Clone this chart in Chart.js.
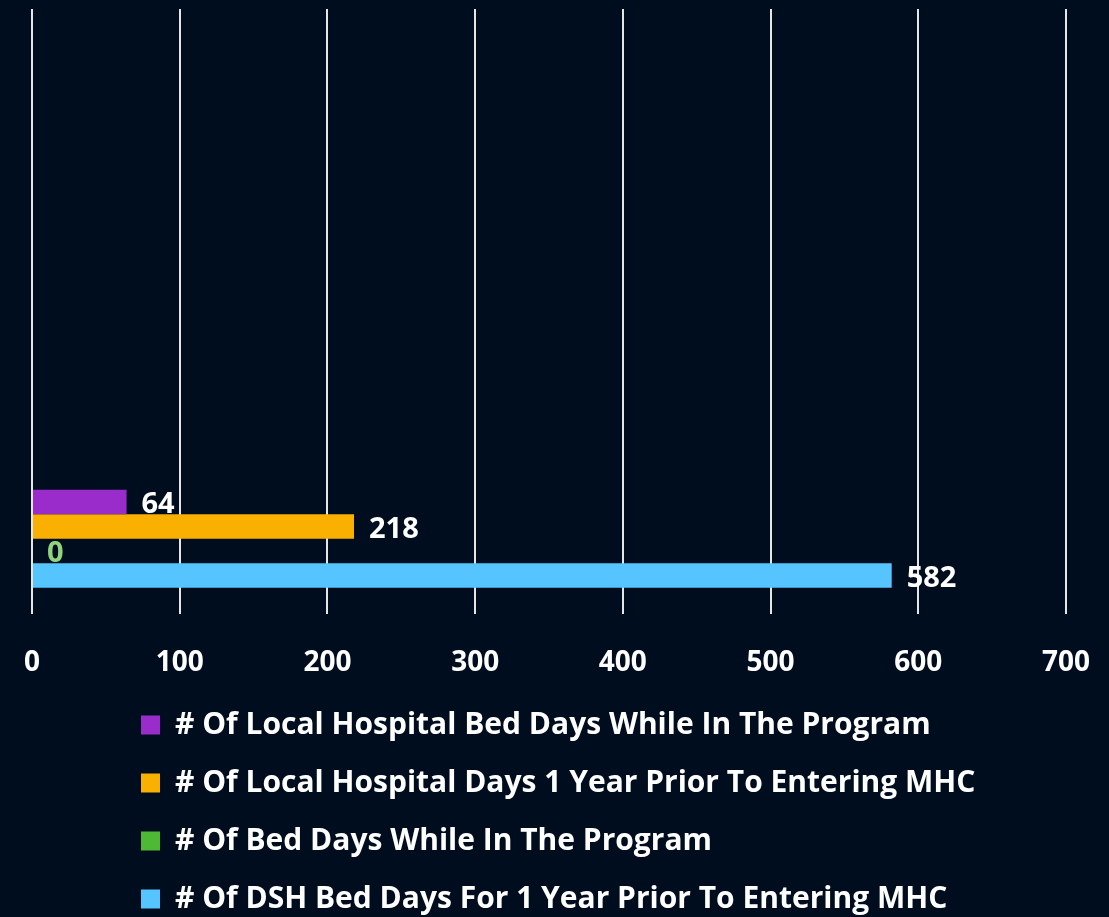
<!DOCTYPE html>
<html>
<head>
<meta charset="utf-8">
<script src="https://cdn.jsdelivr.net/npm/chart.js@4"></script>
<style>
  html, body { margin: 0; padding: 0; background: #000d1f; }
  #wrap { width: 1109px; height: 917px; }
</style>
</head>
<body>
<div id="wrap"><canvas id="myChart"></canvas></div>
<script>
// categories (only the last row carries data, the rest stay empty like the original)
const categories = ['', '', '', ''];

const seriesNames = [
    '# Of Local Hospital Bed Days While In The Program',
    '# Of Local Hospital Days 1 Year Prior To Entering MHC',
    '# Of Bed Days While In The Program',
    '# Of DSH Bed Days For 1 Year Prior To Entering MHC'
];
const localInProgram = [null, null, null, 64];
const localPriorYear = [null, null, null, 218];
const bedDaysInProgram = [null, null, null, 0];
const dshPriorYear = [null, null, null, 582];

const seriesColors = ['#9a2ccc', '#f9b000', '#4db935', '#56c4ff'];
const labelColors = ['#ffffff', '#ffffff', '#8fd47e', '#ffffff'];

const xTicks = [0, 100, 200, 300, 400, 500, 600, 700];

const fontFamily = '"Open Sans", Lato, sans-serif';

// value labels to the right of the bar ends
const barLabels = {
    id: 'barLabels',
    afterDatasetsDraw(chart) {
        const ctx = chart.ctx;
        ctx.save();
        ctx.font = 'bold 29px ' + fontFamily;
        ctx.textAlign = 'left';
        ctx.textBaseline = 'middle';
        chart.data.datasets.forEach((ds, i) => {
            const meta = chart.getDatasetMeta(i);
            meta.data.forEach((bar, j) => {
                const v = ds.data[j];
                if (v === null || v === undefined) return;
                ctx.fillStyle = labelColors[i];
                ctx.fillText(String(v), bar.x + 15, bar.y + 3);
            });
        });
        ctx.restore();
    }
};

// legend in the reference is left aligned with an indent, sitting a bit lower
const legendShift = {
    id: 'legendShift',
    afterUpdate(chart) {
        const lg = chart.legend;
        const w = lg.right - lg.left;
        lg.left = 113;
        lg.right = 113 + w;
        lg.top = 682;
        lg.bottom = chart.height;
    }
};

const datasets = [localInProgram, localPriorYear, bedDaysInProgram, dshPriorYear].map((vals, i) => ({
    label: seriesNames[i],
    data: vals,
    backgroundColor: seriesColors[i],
    borderWidth: 0
}));

const config = {
    type: 'bar',
    data: {
        labels: categories,
        datasets: datasets
    },
    options: {
        indexAxis: 'y',
        responsive: true,
        maintainAspectRatio: false,
        animation: false,
        layout: {
            padding: { top: 9, left: 32, right: 43, bottom: 0 }
        },
        datasets: {
            bar: {
                categoryPercentage: 0.647,
                barPercentage: 1.0
            }
        },
        scales: {
            x: {
                min: 0,
                max: 700,
                afterBuildTicks(axis) {
                    axis.ticks = xTicks.map(v => ({ value: v }));
                },
                grid: {
                    color: '#e6e6e6',
                    lineWidth: 2,
                    drawTicks: true,
                    tickLength: 29,
                    tickColor: 'rgba(0,0,0,0)'
                },
                border: { display: false },
                ticks: {
                    color: '#ffffff',
                    padding: 3,
                    maxRotation: 0,
                    font: { family: fontFamily, size: 28, weight: 'bold' }
                }
            },
            y: {
                display: false
            }
        },
        plugins: {
            legend: {
                position: 'bottom',
                align: 'start',
                maxHeight: 234,
                labels: {
                    color: '#ffffff',
                    boxWidth: 19,
                    boxHeight: 19,
                    padding: 28,
                    font: { family: fontFamily, size: 30, weight: 'bold' }
                }
            },
            tooltip: { enabled: false }
        }
    },
    plugins: [barLabels, legendShift]
};

const myChart = new Chart(
    document.getElementById('myChart'),
    config
);
</script>
</body>
</html>
